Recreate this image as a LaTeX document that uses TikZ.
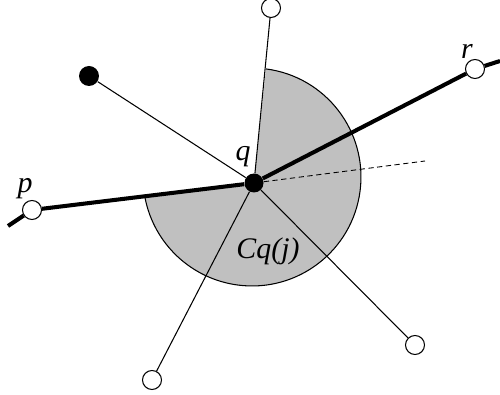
\documentclass[tikz,border=0pt]{standalone}
\usepackage{fontspec}
\setmainfont{Liberation Serif}
\definecolor{sectorgray}{RGB}{192,192,192}
\begin{document}
\begin{tikzpicture}[x=0.02cm,y=0.02cm,
  opennode/.style={circle,draw=black,fill=white,line width=0.6pt,minimum size=0.38cm,inner sep=0pt},
  fullnode/.style={circle,fill=black,minimum size=0.38cm,inner sep=0pt},
  thickedge/.style={line width=2.3pt},
  thinedge/.style={line width=0.6pt},
  dashedge/.style={line width=0.5pt,dash pattern=on 3pt off 2pt},
  lbl/.style={font=\fontsize{17}{19}\selectfont\itshape,inner sep=0pt}]
\useasboundingbox (0,0) rectangle (500,395);
% sector
\fill[sectorgray] (254,212) -- ([shift={(252,218)}]82.6:2.18cm) arc[start angle=82.6,end angle=-169,radius=2.18cm] -- cycle;
\draw[thinedge] ([shift={(252,218)}]82.6:2.18cm) arc[start angle=82.6,end angle=-169,radius=2.18cm];
% nodes
\node[fullnode] (q) at (254,212) {};
\node[opennode] (p) at (32,185) {};
\node[opennode] (r) at (475,326) {};
\node[opennode] (top) at (271,387) {};
\node[fullnode,minimum size=0.4cm] (bd) at (89,319) {};
\node[opennode] (bl) at (152,15) {};
\node[opennode] (br) at (415,50) {};
\coordinate (pend) at (8,169);
\coordinate (rend) at (500,334);
\coordinate (dend) at (425,234);
% connectors
\draw[thinedge] (q) -- (top);
\draw[thinedge] (q) -- (bd);
\draw[thinedge] (q) -- (bl);
\draw[thinedge] (q) -- (br);
\draw[dashedge] (q) -- (dend);
\draw[thickedge] (pend) -- (p);
\draw[thickedge] (p) -- (q);
\draw[thickedge] (q) -- (r);
\draw[thickedge] (r) -- (rend);
% labels
\node[lbl] (lp) at (25,206) {p};
\node[lbl] (lq) at (243,238) {q};
\node[lbl] (lr) at (467,344) {r};
\node[lbl] (lc) at (268,144) {Cq(j)};
\end{tikzpicture}
\end{document}
